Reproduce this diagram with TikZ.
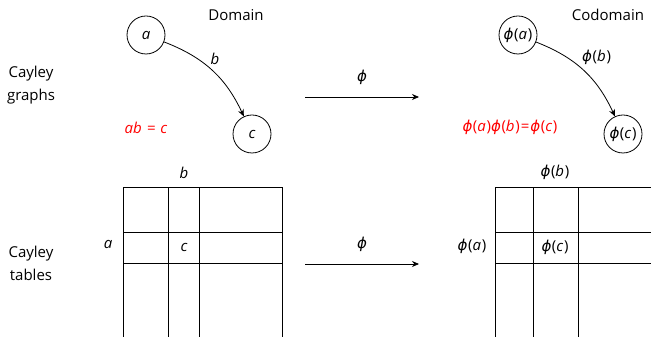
\documentclass[tikz,border=0pt]{standalone}
\usepackage{fontspec}
\setmainfont{Open Sans}
\newfontfamily\dvsfont{DejaVu Sans}
\newcommand{\ph}{{\dvsfont\itshape ϕ}}
\newcommand{\pf}[1]{\ph\kern0.5pt\textup{(}\textit{#1}\kern0.8pt\textup{)}}
\usetikzlibrary{arrows.meta}
\begin{document}
\begin{tikzpicture}[x=1pt,y=1pt,
  every node/.style={font=\fontsize{15}{18}\selectfont},
  vert/.style={draw,circle,line width=0.8pt,minimum size=38pt,inner sep=0.3pt},
  lab/.style={inner sep=0pt},
  rel/.style={inner sep=0pt,text=red},
  grid/.style={line width=0.8pt},
  edge/.style={line width=0.8pt,-{Stealth[length=7pt,width=6pt]}},
  mapar/.style={line width=0.8pt,-{Stealth[length=7pt,width=6pt]}}]
\useasboundingbox (0,0) rectangle (651,337);
\clip (0,0) rectangle (651,337);
% headings
\node[lab] (dom) at (236,322) {Domain};
\node[lab] (cod) at (608,322) {Codomain};
\node[lab,align=center] (cg) at (31,252) {Cayley\\[5pt]graphs};
\node[lab,align=center] (ct) at (31,74) {Cayley\\[5pt]tables};
% domain graph
\node[vert] (a) at (146,302) {\itshape a};
\node[vert] (c) at (252,203) {\itshape c};
\draw[edge] (a) to[bend left=22] node[lab,pos=0.45,above right=2pt] (b) {\itshape b} (c);
\node[rel] (abc) at (146,209) {\itshape ab\hspace{5pt}=\hspace{5pt}c};
% codomain graph
\node[vert] (pa) at (518,302) {\pf{a}};
\node[vert] (pc) at (623,203) {\pf{c}};
\draw[edge] (pa) to[bend left=22] node[lab,pos=0.45,above right=2pt] (pb) {\pf{b}} (pc);
\node[rel] (pabc) at (510,210) {\pf{a}\pf{b}\kern1pt=\kern1pt\pf{c}};
% map arrows
\coordinate (m1s) at (305,240);
\coordinate (m1e) at (419,240);
\draw[mapar] (m1s) -- node[lab,above=12pt] (phi1) {\ph} (m1e);
\coordinate (m2s) at (305,73);
\coordinate (m2e) at (419,73);
\draw[mapar] (m2s) -- node[lab,above=12pt] (phi2) {\ph} (m2e);
% domain table
\draw[grid] (123,-20) rectangle (282,150);
\draw[grid] (168,-20) -- (168,150) (199,-20) -- (199,150);
\draw[grid] (123,105) -- (282,105) (123,74) -- (282,74);
\node[lab] (tb) at (184,164) {\itshape b};
\node[lab] (ta) at (108,93) {\itshape a};
\node[lab] (tc) at (184,90) {\itshape c};
% codomain table
\draw[grid] (495,-20) rectangle (700,150);
\draw[grid] (533,-20) -- (533,150) (578,-20) -- (578,150);
\draw[grid] (495,105) -- (700,105) (495,74) -- (700,74);
\node[lab] (tpb) at (555,165) {\pf{b}};
\node[lab] (tpa) at (472,91) {\pf{a}};
\node[lab] (tpc) at (555,90) {\pf{c}};
\end{tikzpicture}
\end{document}
